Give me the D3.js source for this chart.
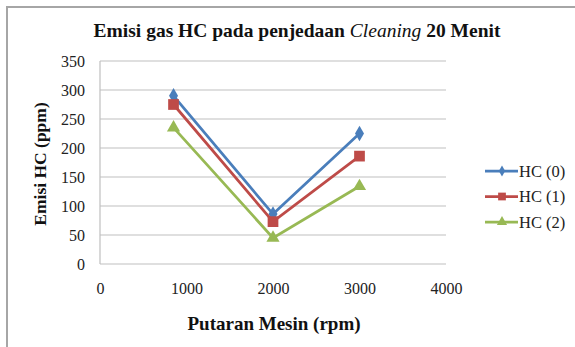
<!DOCTYPE html>
<html>
<head>
<meta charset="utf-8">
<script src="https://cdn.jsdelivr.net/npm/d3@7"></script>
<style>
  body { margin: 0; background: #fff; }
</style>
</head>
<body>
<div class="svg-container"></div>
<script>
// chart data
var rpm = [850, 2000, 3000];
var hc0 = [290, 86, 225];
var hc1 = [275, 73, 186];
var hc2 = [235, 45, 134];
var seriesNames = ["HC (0)", "HC (1)", "HC (2)"];
var xTicks = [0, 1000, 2000, 3000, 4000];
var yTicks = [0, 50, 100, 150, 200, 250, 300, 350];

var colors = ["#4a7ebb", "#be4b48", "#98b954"];
var shapes = [d3.symbolDiamond, d3.symbolSquare, d3.symbolTriangle];
var symSize = [70, 115, 75];
var legSize = [35, 60, 45];
var FONT = "'Liberation Serif'";

var fullWidth = 575, fullHeight = 347;
var plot = {left: 100, right: 446, top: 61, bottom: 264};

var svg = d3.select(".svg-container")
    .append("svg")
    .attr("width", fullWidth)
    .attr("height", fullHeight);

// outer frame (top and left edges visible)
svg.append("path")
    .attr("d", "M7," + fullHeight + "V7H" + fullWidth)
    .attr("fill", "none")
    .attr("stroke", "#a6a6a6")
    .attr("stroke-width", 2);

var xScale = d3.scaleLinear().domain([0, 4000]).range([plot.left, plot.right]);
var yScale = d3.scaleLinear().domain([0, 350]).range([plot.bottom, plot.top]);

// gridlines
svg.append("g")
    .selectAll("line")
    .data(yTicks)
    .enter().append("line")
    .attr("x1", plot.left).attr("x2", plot.right)
    .attr("y1", function(d) { return yScale(d); })
    .attr("y2", function(d) { return yScale(d); })
    .attr("stroke", "#bfbfbf")
    .attr("stroke-width", 1.2);

// y axis line
svg.append("line")
    .attr("x1", plot.left).attr("x2", plot.left)
    .attr("y1", plot.top).attr("y2", plot.bottom)
    .attr("stroke", "#bfbfbf")
    .attr("stroke-width", 1.2);

var yAxis = svg.append("g")
    .attr("transform", "translate(" + plot.left + ",0)")
    .call(d3.axisLeft(yScale).tickValues(yTicks).tickSize(0).tickPadding(15));
yAxis.select(".domain").remove();

var xAxis = svg.append("g")
    .attr("transform", "translate(0," + plot.bottom + ")")
    .call(d3.axisBottom(xScale).tickValues(xTicks).tickSize(0).tickPadding(19)
          .tickFormat(d3.format("d")));
xAxis.select(".domain").remove();

svg.selectAll(".tick text")
    .style("font-family", FONT)
    .style("font-size", "16px")
    .attr("fill", "#222");

// titles
var title = svg.append("text")
    .attr("x", 297).attr("y", 37)
    .attr("text-anchor", "middle")
    .style("font-family", FONT)
    .style("font-size", "19.5px")
    .attr("font-weight", "bold")
    .attr("fill", "#111");
title.append("tspan").text("Emisi gas HC pada penjedaan ");
title.append("tspan").attr("font-style", "italic").attr("font-weight", "normal").text("Cleaning");
title.append("tspan").text(" 20 Menit");

svg.append("text")
    .attr("x", 274).attr("y", 330)
    .attr("text-anchor", "middle")
    .style("font-family", FONT)
    .style("font-size", "19px")
    .attr("font-weight", "bold")
    .attr("fill", "#111")
    .text("Putaran Mesin (rpm)");

svg.append("text")
    .attr("transform", "translate(46,164) rotate(-90)")
    .attr("text-anchor", "middle")
    .style("font-family", FONT)
    .style("font-size", "17.5px")
    .attr("font-weight", "bold")
    .attr("fill", "#111")
    .text("Emisi HC (ppm)");

// series
var series = [hc0, hc1, hc2].map(function(vals, i) {
    return {name: seriesNames[i], values: vals.map(function(v, j) { return {x: rpm[j], y: v}; })};
});

var line = d3.line()
    .x(function(d) { return xScale(d.x); })
    .y(function(d) { return yScale(d.y); });

series.forEach(function(s, i) {
    svg.append("path")
        .datum(s.values)
        .attr("fill", "none")
        .attr("stroke", colors[i])
        .attr("stroke-width", 2.75)
        .attr("d", line);

    svg.append("g")
        .selectAll("path")
        .data(s.values)
        .enter().append("path")
        .attr("transform", function(d) { return "translate(" + xScale(d.x) + "," + yScale(d.y) + ")"; })
        .attr("d", d3.symbol().type(shapes[i]).size(symSize[i]))
        .attr("fill", colors[i]);
});

// legend
var legend = svg.append("g")
    .selectAll("g")
    .data(series)
    .enter().append("g")
    .attr("transform", function(d, i) { return "translate(485," + (171 + i * 25.5) + ")"; });

legend.append("line")
    .attr("x1", 0).attr("x2", 33)
    .attr("stroke", function(d, i) { return colors[i]; })
    .attr("stroke-width", 2.75);

legend.append("path")
    .attr("transform", "translate(17,0)")
    .attr("d", function(d, i) { return d3.symbol().type(shapes[i]).size(legSize[i])(); })
    .attr("fill", function(d, i) { return colors[i]; });

legend.append("text")
    .attr("x", 34).attr("y", 5.5)
    .style("font-family", FONT)
    .style("font-size", "16.5px")
    .attr("fill", "#222")
    .text(function(d) { return d.name; });
</script>
</body>
</html>
